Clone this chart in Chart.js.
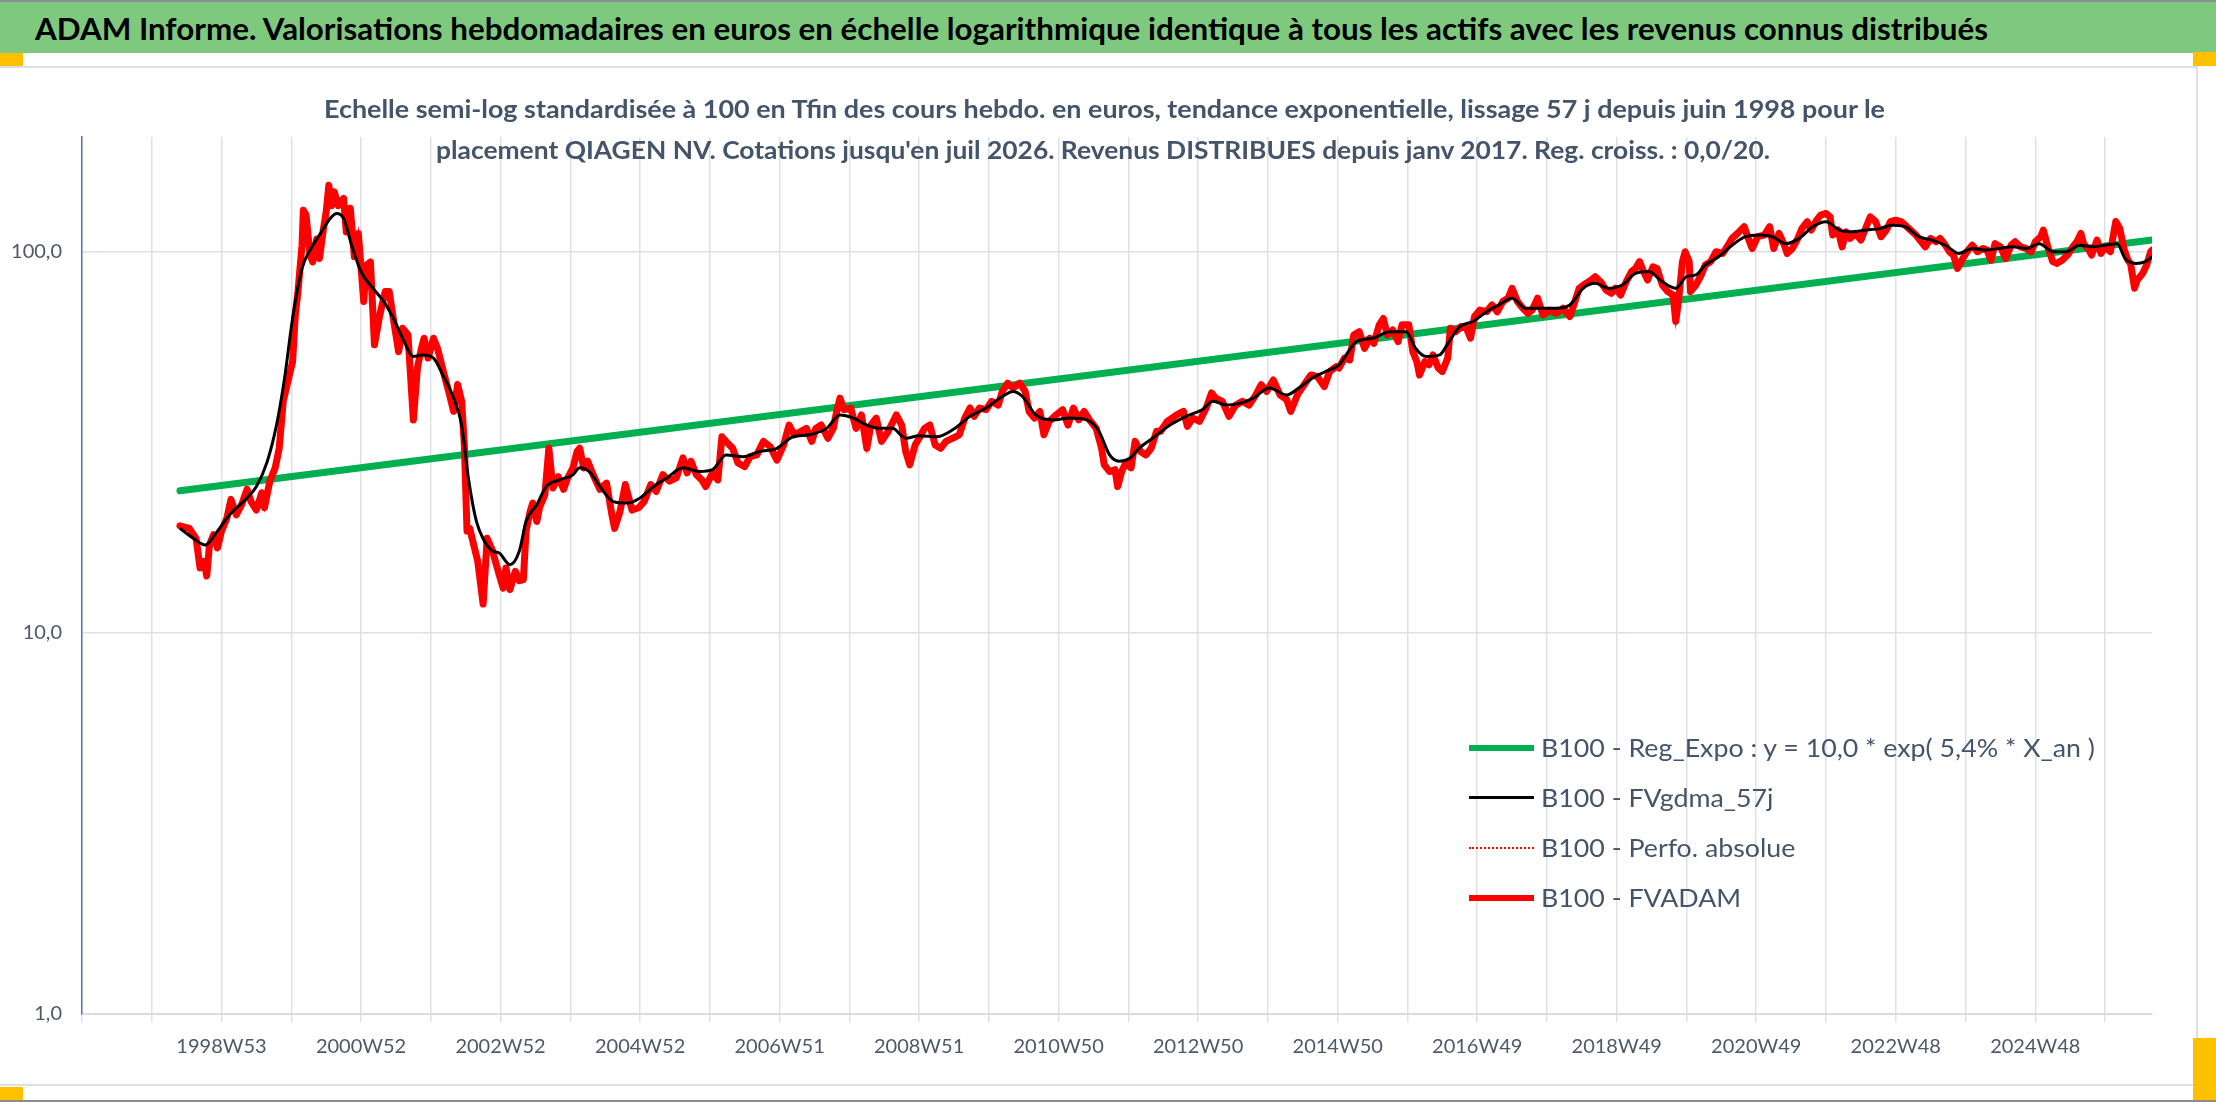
<!DOCTYPE html>
<html lang="fr">
<head>
<meta charset="utf-8">
<title>ADAM Informe - QIAGEN NV</title>
<script src="https://cdn.jsdelivr.net/npm/chart.js@4.4.1/dist/chart.umd.min.js"></script>
<style>
  html, body { margin: 0; padding: 0; background: #fff; }
  body { width: 2216px; height: 1102px; position: relative; overflow: hidden; font-family: Lato, "Open Sans", sans-serif; }
  .trait { position: absolute; left: 0; width: 2216px; height: 2px; background: #8c8c8c; }
  #bandeau { position: absolute; left: 0; top: 2px; width: 2216px; height: 51px; background: #7fc97f; }
  .poignee { position: absolute; background: #ffc000; }
  #cadre { position: absolute; left: -2px; top: 66px; width: 2200px; height: 1020px; border: 2px solid #dcdfe3; box-sizing: border-box; }
  #graphique { position: absolute; left: 0; top: 0; }
  .texte { position: absolute; white-space: nowrap; line-height: 1; transform-origin: left center; display: inline-block; }
  #titre { left: 35px; top: 13px; font-size: 30px; font-weight: 700; color: #000; }
  .sous-titre { font-size: 25.5px; font-weight: 700; color: #44546a; }
  .legende-trait { position: absolute; left: 1469px; width: 65px; }
  .legende-texte { left: 1541px; font-size: 25px; color: #44546a; }
</style>
</head>
<body>
<div class="trait" style="top:0"></div>
<div id="bandeau"></div>
<span id="titre" class="texte">ADAM Informe. Valorisations hebdomadaires en euros en échelle logarithmique identique à tous les actifs avec les revenus connus distribués</span>
<div id="cadre"></div>
<div class="poignee" style="left:0;top:53px;width:23px;height:13px"></div>
<div class="poignee" style="left:2193px;top:52px;width:23px;height:14px"></div>
<div class="poignee" style="left:0;top:1087px;width:23px;height:13px"></div>
<div class="poignee" style="left:2193px;top:1038px;width:23px;height:62px"></div>
<div class="trait" style="top:1100px"></div>

<canvas id="graphique" width="2216" height="1102"></canvas>

<span id="st1" class="texte sous-titre" style="left:324px;top:96px">Echelle semi-log standardisée à 100 en Tfin des cours hebdo. en euros, tendance exponentielle, lissage 57 j depuis juin 1998 pour le</span>
<span id="st2" class="texte sous-titre" style="left:436px;top:137px">placement QIAGEN NV. Cotations jusqu'en juil 2026. Revenus DISTRIBUES depuis janv 2017. Reg. croiss. : 0,0/20.</span>

<div class="legende-trait" style="top:745px;border-top:6px solid #00b050"></div>
<span id="lg1" class="texte legende-texte" style="top:735px">B100 - Reg_Expo : y = 10,0 * exp( 5,4% *  X_an )</span>
<div class="legende-trait" style="top:796px;border-top:3px solid #000"></div>
<span id="lg2" class="texte legende-texte" style="top:785px">B100 - FVgdma_57j</span>
<div class="legende-trait" style="top:847px;border-top:2px dotted #ff0000"></div>
<span id="lg3" class="texte legende-texte" style="top:835px">B100 - Perfo. absolue</span>
<div class="legende-trait" style="top:895px;border-top:6px solid #ff0000"></div>
<span id="lg4" class="texte legende-texte" style="top:885px">B100 - FVADAM</span>

<script>
// x = numero de semaine depuis le debut de l'axe (52 semaines par graduation)
const tickLabels = ['1998W53', '2000W52', '2002W52', '2004W52', '2006W51', '2008W51', '2010W50',
                    '2012W50', '2014W50', '2016W49', '2018W49', '2020W49', '2022W48', '2024W48'];
const logTicks = [1, 10, 100];

// B100 - FVADAM
const fvadamWeeks = [73, 80, 85, 88, 91, 93, 95, 98, 101, 104, 108, 111, 115, 119, 123, 126, 130, 134, 136, 140,
  144, 147, 150, 154, 157, 159, 161, 164, 165, 167, 170, 172, 175, 177, 180, 182, 184, 186, 188, 191,
  195, 197, 200, 203, 206, 210, 212, 215, 218, 222, 226, 229, 232, 236, 239, 243, 247, 250, 253, 255,
  258, 262, 265, 270, 274, 277, 280, 283, 285, 287, 289, 292, 295, 299, 302, 306, 311, 314, 316, 319,
  323, 326, 329, 331, 334, 336, 339, 341, 345, 348, 351, 355, 359, 362, 366, 369, 371, 374, 377, 381,
  386, 391, 395, 397, 401, 405, 410, 415, 419, 424, 428, 433, 438, 443, 448, 451, 454, 458, 462, 465,
  470, 474, 477, 480, 485, 489, 494, 498, 503, 508, 513, 518, 523, 527, 531, 536, 540, 544, 547, 551,
  556, 560, 562, 565, 568, 573, 577, 581, 585, 588, 592, 596, 601, 607, 611, 614, 617, 621, 624, 628,
  632, 636, 640, 644, 649, 654, 658, 662, 665, 669, 674, 678, 683, 686, 690, 694, 699, 703, 706, 710,
  714, 717, 721, 726, 731, 735, 739, 743, 747, 751, 756, 760, 762, 766, 770, 772, 775, 778, 782, 785,
  789, 793, 797, 801, 804, 809, 816, 821, 824, 828, 833, 838, 842, 845, 850, 855, 860, 865, 870, 875,
  879, 883, 888, 893, 898, 901, 906, 911, 916, 921, 926, 930, 935, 937, 941, 945, 948, 952, 956, 960,
  963, 967, 970, 973, 977, 981, 984, 989, 992, 995, 997, 1001, 1004, 1007, 1011, 1014, 1018, 1020, 1024, 1028,
  1032, 1035, 1038, 1042, 1047, 1051, 1055, 1059, 1063, 1066, 1070, 1074, 1078, 1081, 1085, 1089, 1094, 1099, 1104, 1109,
  1112, 1116, 1121, 1125, 1128, 1132, 1136, 1140, 1143, 1147, 1151, 1155, 1158, 1161, 1164, 1167, 1171, 1174, 1178, 1182,
  1186, 1188, 1190, 1193, 1195, 1198, 1199, 1203, 1207, 1210, 1214, 1218, 1223, 1227, 1230, 1234, 1239, 1243, 1245, 1249,
  1254, 1258, 1261, 1265, 1269, 1271, 1275, 1279, 1282, 1286, 1289, 1293, 1296, 1300, 1303, 1305, 1309, 1312, 1315, 1318,
  1322, 1326, 1330, 1333, 1337, 1341, 1345, 1348, 1352, 1356, 1359, 1363, 1367, 1371, 1374, 1378, 1382, 1385, 1389, 1392,
  1395, 1398, 1402, 1405, 1409, 1413, 1417, 1420, 1423, 1426, 1430, 1434, 1438, 1441, 1445, 1449, 1453, 1456, 1460, 1462,
  1465, 1469, 1472, 1476, 1480, 1484, 1487, 1490, 1492, 1496, 1498, 1502, 1505, 1508, 1512, 1516, 1519, 1522, 1525, 1527,
  1530, 1532, 1536, 1539, 1542, 1543];
const fvadamValues = [19.1, 18.8, 17.7, 14.8, 15.4, 14.1, 17.0, 18.1, 16.7, 18.5, 20.0, 22.4, 20.4, 21.7, 23.8, 22.1, 21.0, 23.3, 21.3, 25.0,
  27.1, 30.5, 40.5, 46.6, 51.5, 68.3, 78.6, 104, 128.5, 124.8, 98, 94, 108, 96, 115, 127, 149.5, 132, 143.6, 132,
  138, 112.7, 130, 97, 111.7, 74, 92.3, 94, 57, 68.3, 78.6, 78.6, 67, 54.7, 63, 60.5, 36.2, 49.5, 55.8, 59.3,
  52.6, 59.3, 55.8, 47.5, 42.1, 38.1, 44.8, 40.5, 31.1, 18.5, 18.8, 17.0, 15.4, 11.9, 17.7, 16.4, 14.2, 13.1, 14.8, 13.0,
  14.5, 13.7, 13.8, 18.5, 20.8, 21.9, 19.6, 21.3, 23.0, 30.5, 24.0, 25.7, 23.8, 25.5, 27.1, 29.9, 30.5, 27.1, 28.2, 26.0,
  23.8, 24.7, 20.4, 18.8, 20.8, 24.5, 21.0, 21.3, 22.1, 24.5, 23.5, 26.0, 25.0, 25.5, 28.8, 26.3, 28.2, 26.0, 25.2, 24.2,
  26.3, 25.2, 32.7, 31.8, 30.5, 27.9, 27.3, 29.0, 29.3, 31.8, 30.8, 28.4, 31.1, 35.1, 33.1, 33.8, 34.4, 31.8, 34.4, 35.1,
  32.4, 34.4, 37.3, 41.3, 38.5, 38.9, 34.4, 37.3, 30.5, 35.1, 36.6, 31.8, 33.8, 37.3, 35.1, 29.9, 27.6, 31.1, 32.4, 34.4,
  35.1, 31.1, 30.5, 31.8, 32.4, 33.1, 36.6, 38.9, 37.0, 38.9, 38.5, 40.5, 39.6, 43.0, 45.2, 43.9, 45.2, 43.0, 38.1, 36.6,
  38.1, 33.1, 35.9, 37.3, 38.5, 35.1, 38.9, 36.2, 38.1, 36.2, 34.4, 30.5, 27.6, 26.5, 26.8, 24.2, 26.5, 27.9, 27.1, 31.8,
  29.9, 29.3, 30.5, 33.8, 33.8, 35.9, 37.3, 38.1, 34.8, 36.6, 35.9, 38.9, 42.6, 41.3, 40.5, 37.0, 39.6, 40.5, 39.6, 42.1,
  44.8, 43.0, 46.1, 42.1, 40.9, 38.1, 42.1, 44.8, 47.5, 47.0, 44.3, 48.5, 50.0, 49.5, 52.6, 52.0, 60.5, 61.7, 55.8, 59.3,
  57.5, 64.3, 66.8, 60.5, 62.3, 58.1, 64.3, 64.3, 54.7, 51.5, 47.5, 51.5, 50.5, 53.6, 49.5, 48.5, 52.6, 63.0, 61.7, 63.6,
  63.0, 59.3, 67.6, 70.3, 69.6, 72.5, 69.6, 74.0, 75.5, 80.2, 74.0, 71.1, 68.9, 70.3, 75.5, 68.3, 70.3, 68.9, 71.1, 67.6,
  72.5, 80.2, 82.6, 84.3, 86.0, 83.4, 79.4, 77.8, 80.2, 77.0, 83.4, 88.7, 90.4, 94.2, 88.7, 84.3, 91.3, 90.4, 81.8, 78.6,
  77.0, 65.6, 74.0, 94.2, 100, 94.2, 78.6, 81.8, 86.9, 92.3, 94.2, 100, 99, 104, 108.4, 111.7, 116.3, 106.2, 102, 109.5,
  110.6, 116.3, 102, 111.7, 104, 99, 102, 108.4, 115, 119.9, 114, 121, 124.8, 126, 123.5, 110.6, 114, 103, 112.8, 108.4,
  111.7, 107.3, 116.3, 123.5, 119.9, 109.5, 114, 119.9, 121, 120, 117.4, 114, 110.6, 106.2, 103, 108.4, 106.2, 108.4, 104, 100,
  98, 90.4, 96, 100, 104, 100, 102, 101, 95, 105, 103, 96, 104, 106.2, 103, 102, 100, 106.2, 109.5, 114,
  104, 94.2, 93.2, 95, 98, 103, 106.2, 111.7, 105, 101, 98, 107.3, 99, 103, 100, 120, 115, 102, 95, 93.2,
  80.2, 84.3, 87.7, 92.3, 100, 101];

// B100 - FVgdma_57j (moyenne lissee)
const gdmaWeeks = [73, 83, 92, 100, 110, 123, 130, 138, 145, 151, 157, 164, 170, 177, 185, 190, 195, 201, 208, 217,
  225, 232, 239, 247, 254, 262, 269, 277, 283, 288, 294, 300, 306, 311, 319, 326, 331, 339, 346, 356,
  366, 371, 379, 386, 396, 406, 416, 426, 436, 448, 460, 470, 480, 493, 505, 518, 530, 542, 555, 565,
  575, 585, 595, 604, 614, 624, 637, 649, 662, 674, 686, 694, 701, 711, 724, 736, 749, 758, 766, 773,
  781, 788, 798, 811, 823, 835, 843, 853, 863, 873, 885, 898, 907, 917, 927, 937, 950, 962, 975, 987,
  994, 1002, 1012, 1019, 1027, 1037, 1047, 1056, 1066, 1076, 1086, 1099, 1109, 1119, 1128, 1138, 1148, 1158, 1168, 1178,
  1188, 1196, 1203, 1210, 1220, 1230, 1240, 1250, 1260, 1270, 1280, 1290, 1300, 1310, 1320, 1330, 1340, 1349, 1359, 1369,
  1379, 1389, 1399, 1409, 1419, 1429, 1439, 1449, 1459, 1469, 1479, 1489, 1498, 1508, 1517, 1523, 1531, 1538, 1543];
const gdmaValues = [18.8, 17.7, 17.0, 18.3, 20.4, 22.6, 24.2, 28.1, 35.1, 46.6, 66.9, 90.4, 101, 110.6, 122.3, 126, 122.3, 104, 88.6, 80.1,
  74, 67, 59.3, 53.1, 53.6, 52.6, 47.5, 41.3, 35.1, 25.5, 19.6, 17.4, 16.4, 16.2, 15.1, 16.4, 19.6, 21.7, 24.2, 25.2,
  26.0, 27.1, 26.3, 24.2, 22.1, 21.9, 22.6, 24.2, 25.5, 27.1, 26.5, 26.8, 29.3, 29.0, 29.9, 30.5, 32.7, 33.1, 34.4, 37.3,
  36.6, 35.1, 34.4, 34.4, 32.4, 32.9, 32.7, 34.1, 37.0, 38.9, 41.7, 43.0, 41.7, 37.3, 36.2, 36.6, 36.2, 33.8, 29.3, 28.2,
  28.7, 30.5, 32.4, 35.1, 37.0, 38.5, 40.5, 39.6, 40.0, 41.3, 43.9, 42.1, 43.9, 46.6, 48.5, 50.5, 58.1, 59.3, 61.7, 61.7,
  55.8, 53.1, 53.6, 58.1, 63.6, 65.6, 69.6, 72.5, 75.5, 71.1, 71.1, 71.1, 72.5, 80.2, 82.6, 80.2, 81.8, 87.7, 88.7, 83.4,
  80.2, 86.0, 86.9, 92.3, 97, 104, 109.5, 110.6, 109.5, 105, 108.4, 116.3, 119.9, 114, 112.8, 114, 115, 117.4, 116.3, 109.5,
  107.3, 104, 99, 102, 101, 102, 103, 102, 105, 100, 100, 104, 103, 104, 105, 96, 93.2, 94.2, 97];

// B100 - Reg_Expo : droite en echelle log, lue a ses deux extremites
const regWeeks = [73, 1543];
const regValues = [23.6, 107.3];

function points(weeks, values) {
  return weeks.map((w, i) => ({ x: w, y: values[i] }));
}

const gridColor = '#dde1e7';
const tickColor = '#4d5868';

Chart.defaults.font.family = 'Lato, "Open Sans", sans-serif';

new Chart(document.getElementById('graphique'), {
  type: 'line',
  data: {
    datasets: [
      {
        label: 'B100 - FVgdma_57j',
        data: points(gdmaWeeks, gdmaValues),
        borderColor: '#000000',
        borderWidth: 3,
        cubicInterpolationMode: 'monotone',
        pointRadius: 0
      },
      {
        label: 'B100 - FVADAM',
        data: points(fvadamWeeks, fvadamValues),
        borderColor: '#ff0000',
        borderWidth: 7,
        borderJoinStyle: 'round',
        borderCapStyle: 'round',
        tension: 0,
        pointRadius: 0
      },
      {
        label: 'B100 - Perfo. absolue',
        data: points(fvadamWeeks, fvadamValues),
        borderColor: '#ff0000',
        borderWidth: 2,
        borderDash: [2, 3],
        tension: 0,
        pointRadius: 0
      },
      {
        label: 'B100 - Reg_Expo : y = 10,0 * exp( 5,4% *  X_an )',
        data: points(regWeeks, regValues),
        borderColor: '#00b050',
        borderWidth: 7,
        borderCapStyle: 'round',
        pointRadius: 0
      }
    ]
  },
  options: {
    responsive: false,
    animation: false,
    layout: { padding: { left: 0, top: 137, right: 64, bottom: 28 } },
    plugins: {
      legend: { display: false },
      tooltip: { enabled: false },
      title: { display: false }
    },
    scales: {
      x: {
        type: 'linear',
        min: 0,
        max: 1543,
        grid: {
          color: (c) => (c.tick && c.tick.value === 0) ? 'rgba(0,0,0,0)' : gridColor,
          lineWidth: 1.5,
          drawTicks: true,
          tickLength: 8,
          tickColor: gridColor
        },
        border: { color: '#d9dce0', width: 2 },
        ticks: {
          stepSize: 52,
          autoSkip: false,
          includeBounds: false,
          maxRotation: 0,
          minRotation: 0,
          padding: 13,
          color: tickColor,
          font: { size: 20 },
          callback: (v) => (v > 0 && v % 104 === 0) ? tickLabels[v / 104 - 1] : ''
        },
        afterFit: (s) => { s.height = 60; }
      },
      y: {
        type: 'logarithmic',
        min: 1,
        max: 200,
        afterBuildTicks: (s) => { s.ticks = logTicks.map((v) => ({ value: v })); },
        grid: { color: gridColor, lineWidth: 1.5, drawTicks: false },
        border: { color: '#4472c4', width: 1.5 },
        ticks: {
          padding: 20,
          color: tickColor,
          font: { size: 20 },
          callback: (v) => Number(v).toFixed(1).replace('.', ',')
        },
        afterFit: (s) => { s.width = 82; }
      }
    }
  }
});

// largeur des textes calee sur la police etroite d'origine
function ajusterLargeur(id, cible) {
  const el = document.getElementById(id);
  const w = el.getBoundingClientRect().width;
  el.style.transform = 'scaleX(' + (cible / w) + ')';
  return cible / w;
}
ajusterLargeur('titre', 1953);
ajusterLargeur('st1', 1561);
ajusterLargeur('st2', 1334);
const k = ajusterLargeur('lg1', 554);
['lg2', 'lg3', 'lg4'].forEach((id) => {
  document.getElementById(id).style.transform = 'scaleX(' + k + ')';
});
</script>
</body>
</html>
